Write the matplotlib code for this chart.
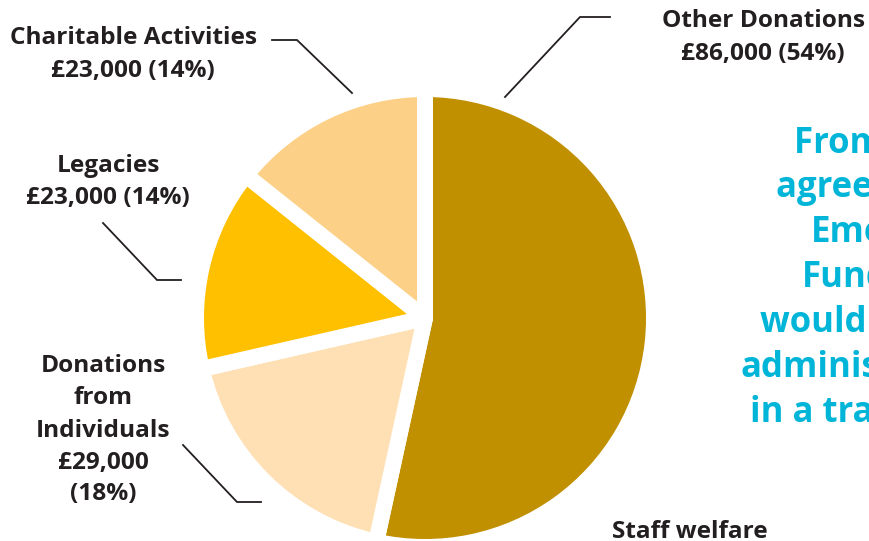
import matplotlib
matplotlib.use("Agg")
import matplotlib.pyplot as plt

# ---- data ----
categories = ["Other Donations", "Donations from Individuals", "Legacies", "Charitable Activities"]
values = [86000, 29000, 23000, 23000]
percents = [54, 18, 14, 14]
colors = ["#C09000", "#FFE0B4", "#FFC000", "#FDD087"]

W, H = 869, 541
fig = plt.figure(figsize=(W / 100, H / 100), dpi=100)
ax = fig.add_axes([0, 0, 1, 1])

def Y(y):
    return H - y

cx, cy = 425, 318
ax.pie(values, colors=colors, startangle=90, counterclock=False,
       center=(cx, Y(cy)), radius=229,
       wedgeprops=dict(edgecolor="white", linewidth=11.5, joinstyle="round"))
ax.set_xlim(0, W)
ax.set_ylim(0, H)
ax.set_aspect("auto")
ax.axis("off")

dark = "#231F20"
font = "Open Sans"
fs = 17.6

def label(lines, xc, baselines):
    for t, b in zip(lines, baselines):
        ax.text(xc, Y(b), t, ha="center", va="baseline", fontsize=fs,
                fontweight="bold", color=dark, family=font)

def fmt(v):
    return "£{:,}".format(v)

# Other Donations
label([categories[0], f"{fmt(values[0])} ({percents[0]}%)"], 763, [27, 60])
# Charitable Activities
label([categories[3], f"{fmt(values[3])} ({percents[3]}%)"], 133, [44, 77])
# Legacies
label([categories[2], f"{fmt(values[2])} ({percents[2]}%)"], 108, [172, 204])
# Donations from Individuals
label(["Donations", "from", "Individuals", fmt(values[1]), f"({percents[1]}%)"], 103,
      [372, 404, 437, 469, 500])
# Staff welfare
ax.text(612, Y(538), "Staff welfare", ha="left", va="baseline", fontsize=fs,
        fontweight="bold", color=dark, family=font)

# leader lines
lw = 1.3
leaders = [
    [(505, 97), (580, 17), (610, 17)],
    [(272, 40), (297, 40), (352, 93)],
    [(103, 223), (157, 280), (181, 280)],
    [(183, 445), (237, 502), (261, 502)],
]
for pts in leaders:
    xs = [p[0] for p in pts]
    ys = [Y(p[1]) for p in pts]
    ax.plot(xs, ys, color=dark, lw=lw, solid_joinstyle="miter")

# cyan side text (cut off at right edge)
cyan = "#00B5D8"
side_lines = ["From the outset", "agreed that", "Emergency", "Fund", "would be",
              "administered", "in a transparent"]
side_x = [794, 776, 811, 802, 760, 740, 750]
side_b = [153, 197, 242, 287, 332, 377, 422]
for t, x, b in zip(side_lines, side_x, side_b):
    ax.text(x, Y(b), t, ha="left", va="baseline", fontsize=25, fontweight="bold",
            color=cyan, family=font, clip_on=True)

fig.savefig("out.png", dpi=100)
